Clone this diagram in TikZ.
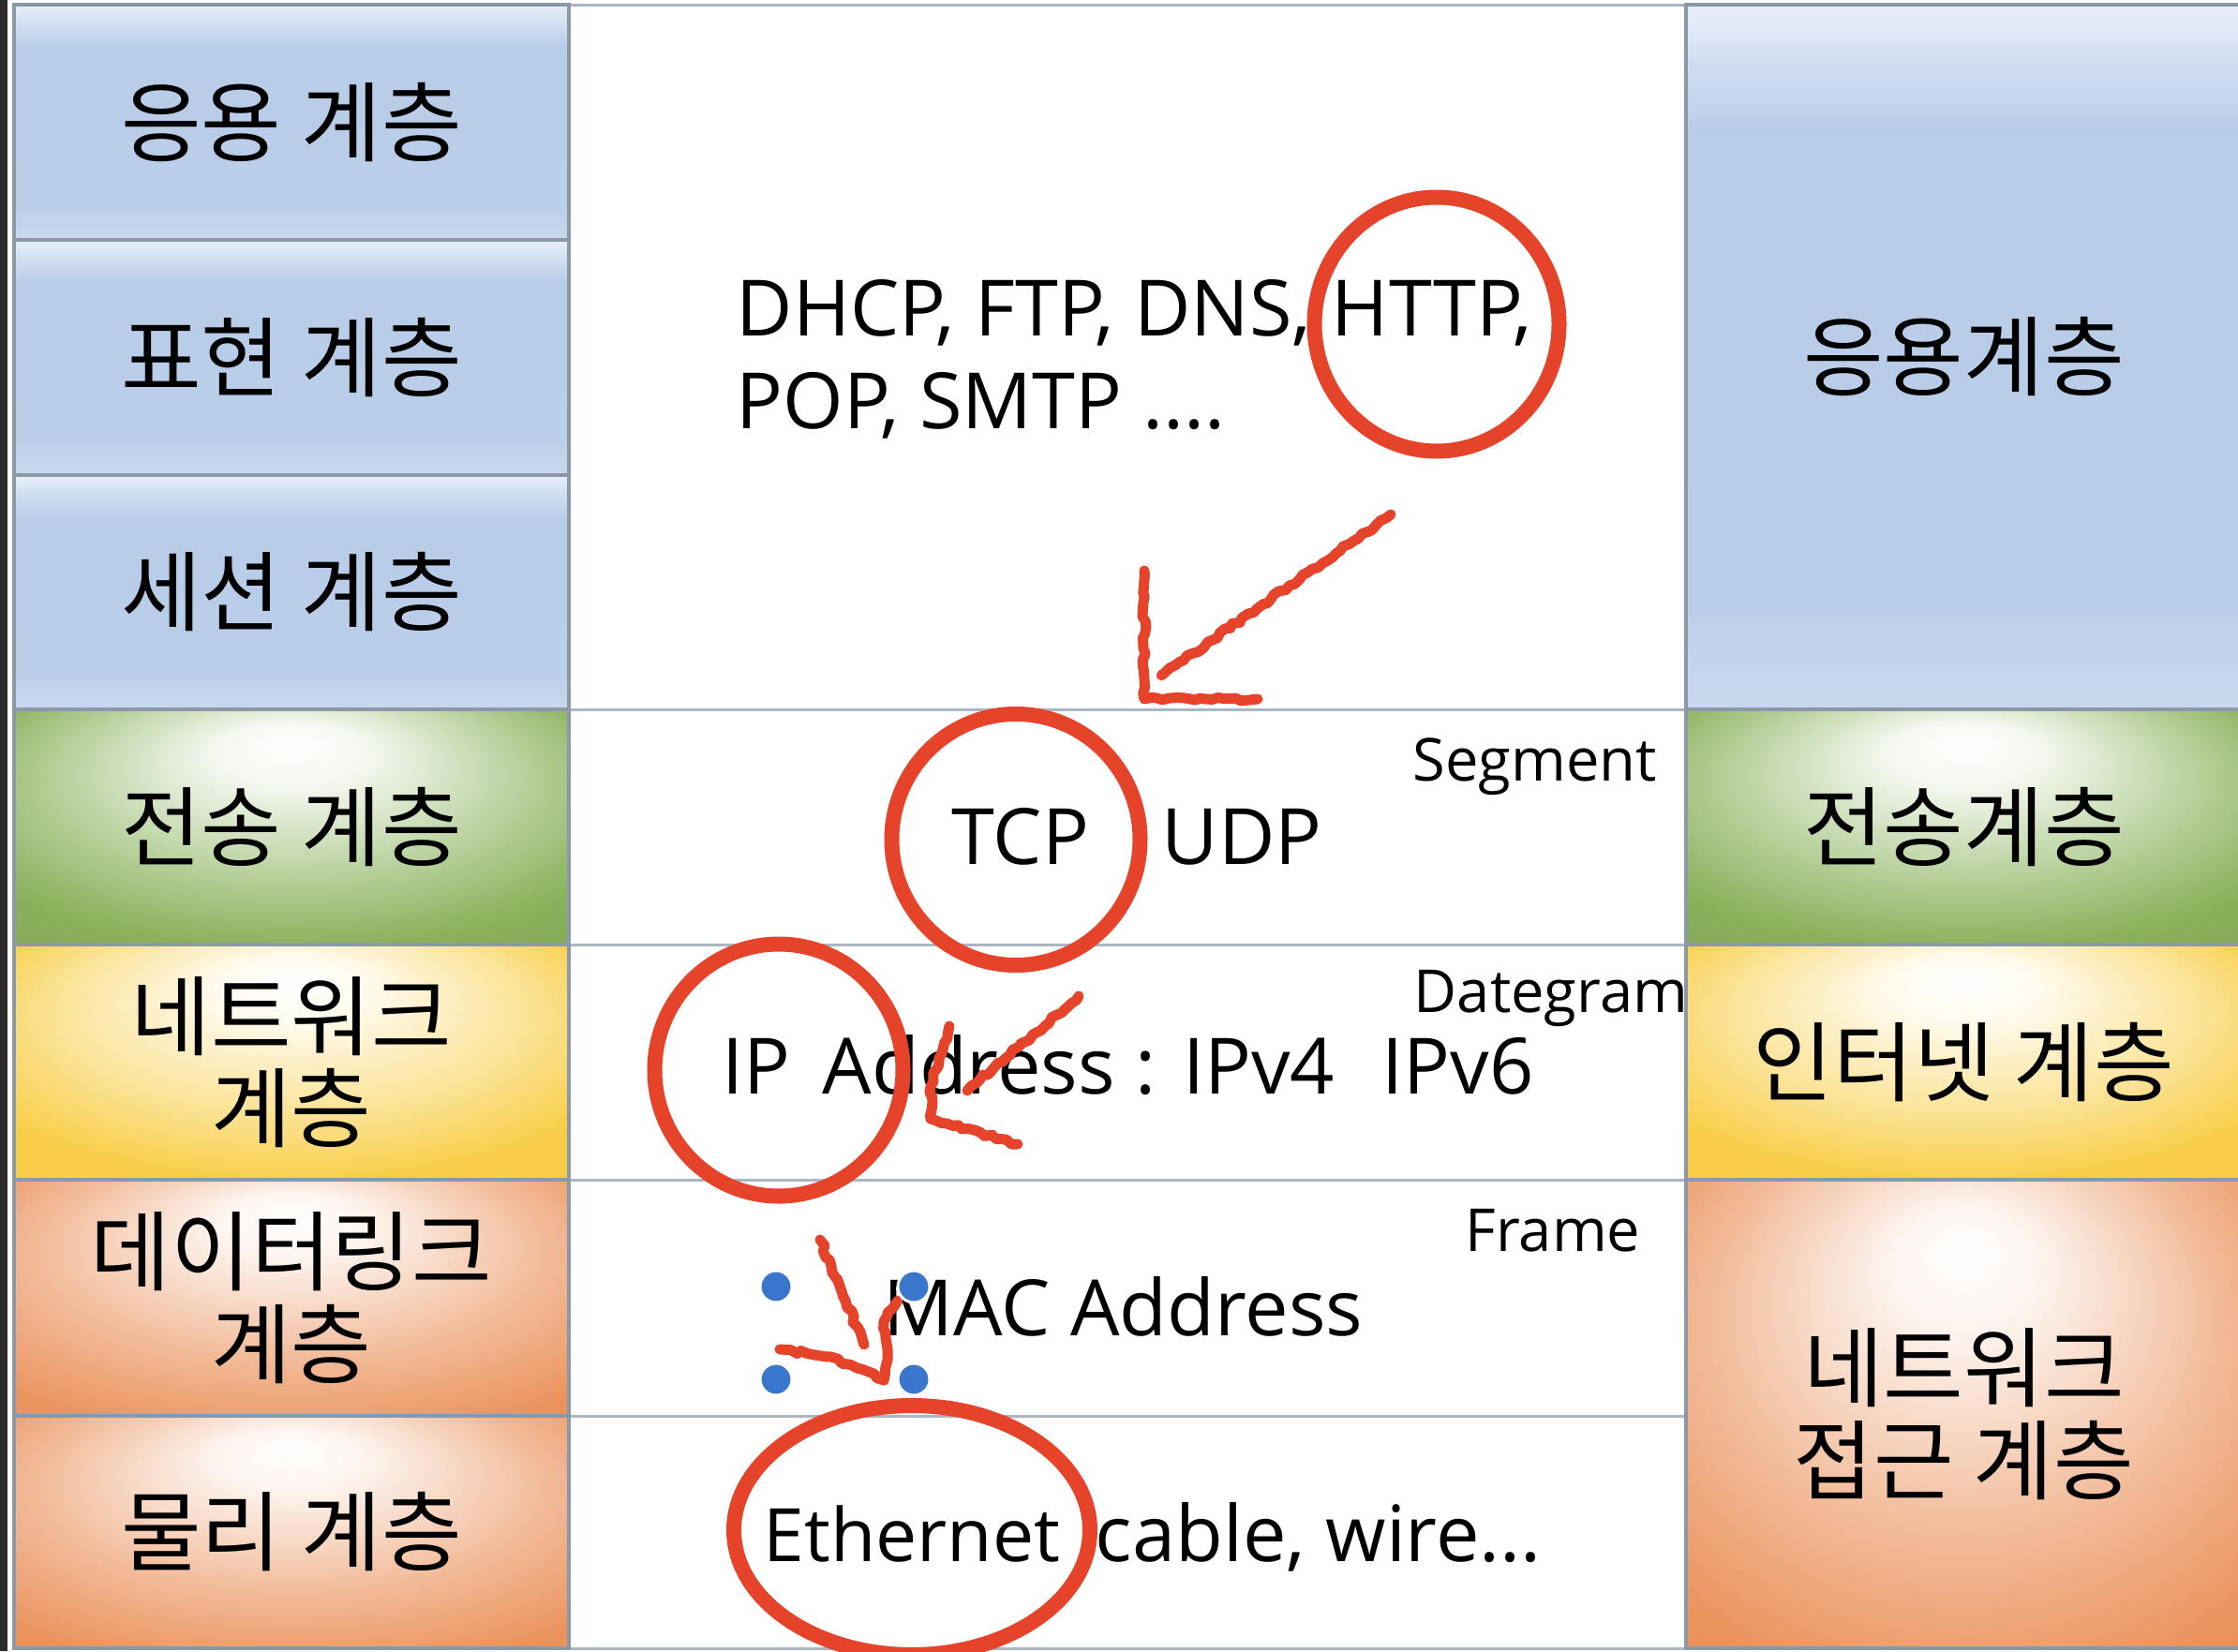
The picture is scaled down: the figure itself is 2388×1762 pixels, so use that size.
\documentclass[tikz,border=0pt]{standalone}
\usepackage{fontspec}
\setmainfont{Open Sans}
\newfontfamily\kr{Noto Sans CJK KR}
\usetikzlibrary{positioning,shapes.geometric,decorations.pathmorphing}

\definecolor{cellline}{HTML}{8A98A8}
\definecolor{gridline}{HTML}{AAB6C4}
\definecolor{blueA}{HTML}{EAF0FA}
\definecolor{blueB}{HTML}{B9CDE9}
\definecolor{blueC}{HTML}{C9D8EE}
\definecolor{greenB}{HTML}{8AB25C}
\definecolor{yellowB}{HTML}{F8CE48}
\definecolor{orangeB}{HTML}{E8874B}
\definecolor{pen}{HTML}{E5432A}
\definecolor{handledot}{HTML}{3A77CC}

\pgfdeclareverticalshading{bluecell}{100bp}{color(0bp)=(blueC); color(25bp)=(blueC); color(32bp)=(blueB!80!blueC); color(50bp)=(blueB); color(66bp)=(blueB); color(72bp)=(blueA!60!blueB); color(75bp)=(blueA); color(100bp)=(blueA)}
\pgfdeclareradialshading{greencell}{\pgfpoint{0bp}{18bp}}{color(0bp)=(white); color(7bp)=(greenB!10!white); color(22bp)=(greenB!65!white); color(32bp)=(greenB); color(50bp)=(greenB!88!black)}
\pgfdeclareradialshading{yellowcell}{\pgfpoint{0bp}{18bp}}{color(0bp)=(white); color(7bp)=(yellowB!10!white); color(22bp)=(yellowB!60!white); color(32bp)=(yellowB); color(50bp)=(yellowB)}
\pgfdeclareradialshading{orangecell}{\pgfpoint{0bp}{18bp}}{color(0bp)=(white); color(7bp)=(orangeB!10!white); color(24bp)=(orangeB!60!white); color(36bp)=(orangeB!90!white); color(50bp)=(orangeB)}

\begin{document}
\begin{tikzpicture}[x=0.1mm,y=-0.1mm,
  cell/.style={draw=cellline,line width=0.35mm,outer sep=0pt,inner sep=0pt,align=center,
    font=\kr\fontsize{26.5pt}{28pt}\selectfont},
  blue cell/.style={cell,shade,shading=bluecell},
  green cell/.style={cell,shade,shading=greencell},
  yellow cell/.style={cell,shade,shading=yellowcell},
  orange cell/.style={cell,shade,shading=orangecell},
  left cell/.style={minimum width=59.2mm},
  right cell/.style={minimum width=59.3mm},
  grid cell/.style={draw=gridline,line width=0.3mm,fill=white,outer sep=0pt,inner sep=0pt,minimum width=119.2mm},
  body/.style={inner sep=0pt,anchor=base west,font=\fontsize{23.6pt}{27pt}\selectfont},
  unit/.style={inner sep=0pt,anchor=base west,font=\fontsize{18pt}{21pt}\selectfont},
  ring/.style={draw=pen,line width=1.6mm,ellipse,inner sep=0pt},
  scrawl/.style={draw=pen,line width=1.1mm,line cap=round,line join=round,decorate,
    decoration={random steps,segment length=0.6mm,amplitude=0.2mm}},
  handle/.style={circle,fill=handledot,draw=white,line width=0.3mm,minimum size=3.4mm,inner sep=0pt}]
\pgfmathsetseed{7}
\useasboundingbox (0,0) rectangle (2388,1762);
\fill[white] (0,0) rectangle (2388,1762);
\fill[black!83] (0,0) rectangle (8,1762);

% middle column
\node[grid cell,anchor=north west,minimum height=75.2mm] (mapp) at (607,5) {};
\node[grid cell,below=0pt of mapp,minimum height=25.1mm] (mtrans) {};
\node[grid cell,below=0pt of mtrans,minimum height=25.1mm] (mnet) {};
\node[grid cell,below=0pt of mnet,minimum height=25.2mm] (mlink) {};
\node[grid cell,below=0pt of mlink,minimum height=24.8mm] (mphys) {};

% OSI
\node[blue cell,left cell,anchor=north west,minimum height=25.1mm] (lapp) at (15,5) {응용 계층};
\node[blue cell,left cell,below=0pt of lapp,minimum height=25.1mm] (lpres) {표현 계층};
\node[blue cell,left cell,below=0pt of lpres,minimum height=25.0mm] (lsess) {세션 계층};
\node[green cell,left cell,below=0pt of lsess,minimum height=25.1mm] (ltrans) {전송 계층};
\node[yellow cell,left cell,below=0pt of ltrans,minimum height=25.1mm] (lnet) {네트워크\\계층};
\node[orange cell,left cell,below=0pt of lnet,minimum height=25.2mm] (llink) {데이터링크\\계층};
\node[orange cell,left cell,below=0pt of llink,minimum height=24.8mm] (lphys) {물리 계층};

% TCP/IP
\node[blue cell,right cell,anchor=north west,minimum height=75.2mm] (rapp) at (1799,5) {응용계층};
\node[green cell,right cell,below=0pt of rapp,minimum height=25.1mm] (rtrans) {전송계층};
\node[yellow cell,right cell,below=0pt of rtrans,minimum height=25.1mm] (rnet) {인터넷 계층};
\node[orange cell,right cell,below=0pt of rnet,minimum height=50.0mm] (rlink) {네트워크\\접근 계층};

% protocols
\node[body] (proto1) at (785,358) {DHCP, FTP, DNS, HTTP,};
\node[body] (proto2) at (785,457) {POP, SMTP ....};
\node[body] (tcp) at (1015,922) {TCP};
\node[body] (udp) at (1239,922) {UDP};
\node[body] (ip) at (770,1167) {IP};
\node[body] (ipaddr) at (877,1167) {Address : IPv4};
\node[body] (ipv6) at (1474,1167) {IPv6};
\node[body] (mac) at (942,1425) {MAC Address};
\node[body,font=\fontsize{22.4pt}{27pt}\selectfont] (eth) at (814,1666) {Ethernet};
\node[body] (cable) at (1168,1666) {cable, wire...};
\node[unit] (seg) at (1507,833) {Segment};
\node[unit] (dgram) at (1508,1080) {Dategram};
\node[unit] (frame) at (1563,1335) {Frame};

% marks
\node[ring,minimum width=26.1mm,minimum height=27.1mm] (httpring) at (1533,346) {};
\node[ring,minimum width=26.5mm,minimum height=26.8mm] (tcpring) at (1084,896) {};
\node[ring,minimum width=26.5mm,minimum height=26.9mm] (ipring) at (831,1142) {};
\node[ring,minimum width=38.0mm,minimum height=26.6mm] (ethring) at (973,1633) {};

\coordinate (a1s) at (1484,549);
\coordinate (a1e) at (1239,721);
\coordinate (h1a) at (1221,609);
\coordinate (h1b) at (1221,746);
\coordinate (h1c) at (1342,746);
\draw[scrawl] (a1s) -- (a1e);
\draw[scrawl] (h1a) -- (h1b) -- (h1c);

\coordinate (a2s) at (1151,1063);
\coordinate (a2e) at (1032,1164);
\coordinate (h2a) at (1013,1095);
\coordinate (h2b) at (993,1160);
\coordinate (h2c) at (993,1194);
\coordinate (h2d) at (1086,1221);
\draw[scrawl] (a2s) -- (a2e);
\draw[scrawl] (h2a) -- (h2b) -- (h2c) -- (h2d);

\coordinate (a3s) at (875,1323);
\coordinate (a3e) at (922,1435);
\coordinate (h3a) at (832,1440);
\coordinate (h3b) at (887,1448);
\coordinate (h3c) at (943,1473);
\coordinate (h3d) at (947,1440);
\coordinate (h3e) at (943,1410);
\coordinate (h3f) at (958,1388);
\draw[scrawl] (a3s) -- (a3e);
\draw[scrawl] (h3a) -- (h3b) -- (h3c) -- (h3d) -- (h3e) -- (h3f);

\foreach \hx/\hy [count=\i] in {828/1373,975/1373,828/1472,975/1472}
  \node[handle] (hd\i) at (\hx,\hy) {};
\end{tikzpicture}
\end{document}
